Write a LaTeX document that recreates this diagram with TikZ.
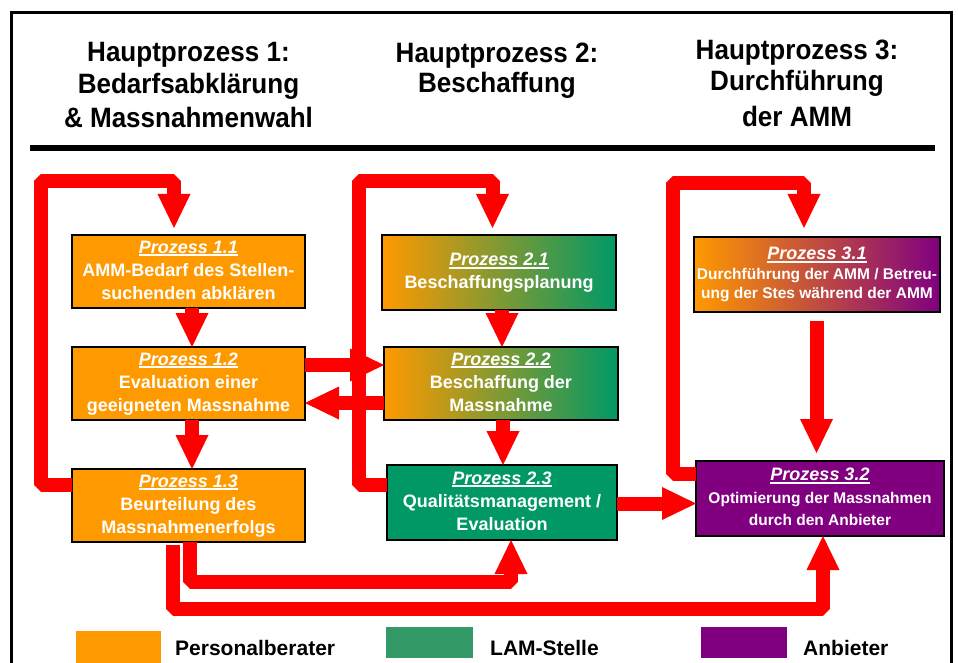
\documentclass[tikz,border=0pt]{standalone}
\usepackage{fontspec}
\setmainfont{Liberation Sans}
\newfontfamily\headfont{Liberation Sans}[FakeStretch=0.93]
\usetikzlibrary{arrows.meta,calc}
\definecolor{orgA}{HTML}{FF9900}
\definecolor{grnA}{HTML}{009966}
\definecolor{grnL}{HTML}{339966}
\definecolor{purA}{HTML}{800080}
\definecolor{redA}{HTML}{FF0000}
\newcommand\ptitle[1]{\setbox0=\hbox{\itshape #1}\rlap{\rule[-3pt]{\wd0}{2pt}}\box0}
\newcommand\bs{\rule[-4pt]{0pt}{17pt}}
\begin{document}
\begin{tikzpicture}[x=1pt,y=-1pt,
  redln/.style={draw=redA, line width=14pt, line join=bevel, line cap=butt},
  redar/.style={redln, -{Triangle[width=33pt,length=34pt,line width=0pt]}},
  pbox/.style={draw=black, line width=1.2pt, inner sep=0pt, outer sep=0pt, text=white, align=center, font=\fontsize{18}{23}\selectfont\bfseries},
  hd/.style={anchor=base, font=\headfont\fontsize{28}{32}\selectfont\bfseries, inner sep=0pt},
  lg/.style={anchor=base west, font=\fontsize{21}{24}\selectfont\bfseries, inner sep=0pt},
  lgbox/.style={inner sep=0pt, outer sep=0pt},
]
\useasboundingbox (0,0) rectangle (958,663);
\fill[white] (0,0) rectangle (958,663);
% frame and rule
\draw[line width=3pt] (11.5,670) -- (11.5,12.5) -- (951.5,12.5) -- (951.5,670);
\draw[line width=6pt] (30,148) -- (935,148);
% headers
\node[hd] (h1a) at (188.5,61.7) {Hauptprozess 1:};
\node[hd] (h1b) at (188.5,93.3) {Bedarfsabklärung};
\node[hd] (h1c) at (188.5,127.3) {\& Massnahmenwahl};
\node[hd] (h2a) at (497,62.7) {Hauptprozess 2:};
\node[hd] (h2b) at (497,92.5) {Beschaffung};
\node[hd] (h3a) at (797,60) {Hauptprozess 3:};
\node[hd] (h3b) at (797,91) {Durchführung};
\node[hd] (h3c) at (797,127) {der AMM};
% boxes
\node[pbox, fill=orgA, minimum width=233pt, minimum height=73pt] (p11) at (188.5,271.5)
  {\bs\ptitle{Prozess 1.1}\\\bs AMM-Bedarf des Stellen-\\\bs suchenden abklären};
\node[pbox, fill=orgA, minimum width=233pt, minimum height=73pt] (p12) at (188.5,383.5)
  {\bs\ptitle{Prozess 1.2}\\\bs Evaluation einer\\\bs geeigneten Massnahme};
\node[pbox, fill=orgA, minimum width=233pt, minimum height=73pt] (p13) at (188.5,505.5)
  {\bs\ptitle{Prozess 1.3}\\\bs Beurteilung des\\\bs Massnahmenerfolgs};
\node[pbox, shade, left color=orgA, right color=grnA, minimum width=234pt, minimum height=75pt] (p21) at (499,272.5)
  {\bs\ptitle{Prozess 2.1}\\\bs Beschaffungsplanung};
\node[pbox, shade, left color=orgA, right color=grnA, minimum width=234pt, minimum height=73pt] (p22) at (501,383.5)
  {\bs\ptitle{Prozess 2.2}\\\bs Beschaffung der\\\bs Massnahme};
\node[pbox, fill=grnA, minimum width=230pt, minimum height=75pt] (p23) at (502,502.5)
  {\bs\ptitle{Prozess 2.3}\\\bs Qualitätsmanagement /\\\bs Evaluation};
\node[pbox, shade, left color=orgA, right color=purA, minimum width=246pt, minimum height=75pt,
  font=\fontsize{15.5}{19.5}\selectfont\bfseries] (p31) at (817,274.5)
  {\bs{\fontsize{18}{19.5}\selectfont\ptitle{Prozess 3.1}}\\\bs Durchführung der AMM / Betreu-\\\bs ung der Stes während der AMM};
\node[pbox, fill=purA, minimum width=248pt, minimum height=75pt,
  font=\fontsize{15.5}{22.5}\selectfont\bfseries] (p32) at (820,498.5)
  {\bs{\fontsize{18}{22.5}\selectfont\ptitle{Prozess 3.2}}\\\bs Optimierung der Massnahmen\\\bs durch den Anbieter};
% loop corners
\coordinate (l1a) at (40.5,181);
\coordinate (l2a) at (358.5,181);
\coordinate (l3a) at (672.5,183.5);
% loops
\draw[redar] ($(p13.west)+(0,-20.5)$) -| (l1a) -| ($(p11.north)+(-14.5,-7)$);
\draw[redar] ($(p23.west)+(0,-17.5)$) -| (l2a) -| ($(p21.north)+(-6.5,-7)$);
\draw[redar] ($(p32.west)+(0,-24.5)$) -| (l3a) -| ($(p31.north)+(-13,-9)$);
% straight arrows
\draw[redar] ($(p11.south)+(3.5,0)$) -- ($(p12.north)+(3.5,0)$);
\draw[redar] ($(p12.south)+(3.5,0)$) -- ($(p13.north)+(3.5,0)$);
\draw[redar] ($(p21.south)+(3,0)$) -- ($(p22.north)+(1,0)$);
\draw[redar] ($(p22.south)+(2,0)$) -- ($(p23.north)+(1,0)$);
\draw[redar] ($(p31.south)+(-0.5,9)$) -- ($(p32.north)+(-3.5,-8)$);
\draw[redar] ($(p12.east)+(0,-18.5)$) -- ($(p22.west)+(0,-18.5)$);
\draw[redar] ($(p22.west)+(0,19.5)$) -- ($(p12.east)+(0,19.5)$);
\draw[redar] ($(p23.east)+(0,1)$) -- ($(p32.west)+(0,5)$);
% bottom arrows
\draw[redar] ($(p13.south)+(1.5,0)$) |- ($(p23.south)+(9,42)$) -- ($(p23.south)+(9,0)$);
\draw[redar] ($(p13.south)+(-16,3)$) |- ($(p32.south)+(3,73)$) -- ($(p32.south)+(3,0)$);
% legend
\node[lgbox, fill=orgA, minimum width=85pt, minimum height=32pt] (lg1) at (118.5,647) {};
\node[lg] (lt1) at (175,655) {Personalberater};
\node[lgbox, fill=grnL, minimum width=87pt, minimum height=31pt] (lg2) at (429.5,642.5) {};
\node[lg] (lt2) at (490,655) {LAM-Stelle};
\node[lgbox, fill=purA, minimum width=86pt, minimum height=31pt] (lg3) at (744,642.5) {};
\node[lg] (lt3) at (803,655) {Anbieter};
\end{tikzpicture}
\end{document}
